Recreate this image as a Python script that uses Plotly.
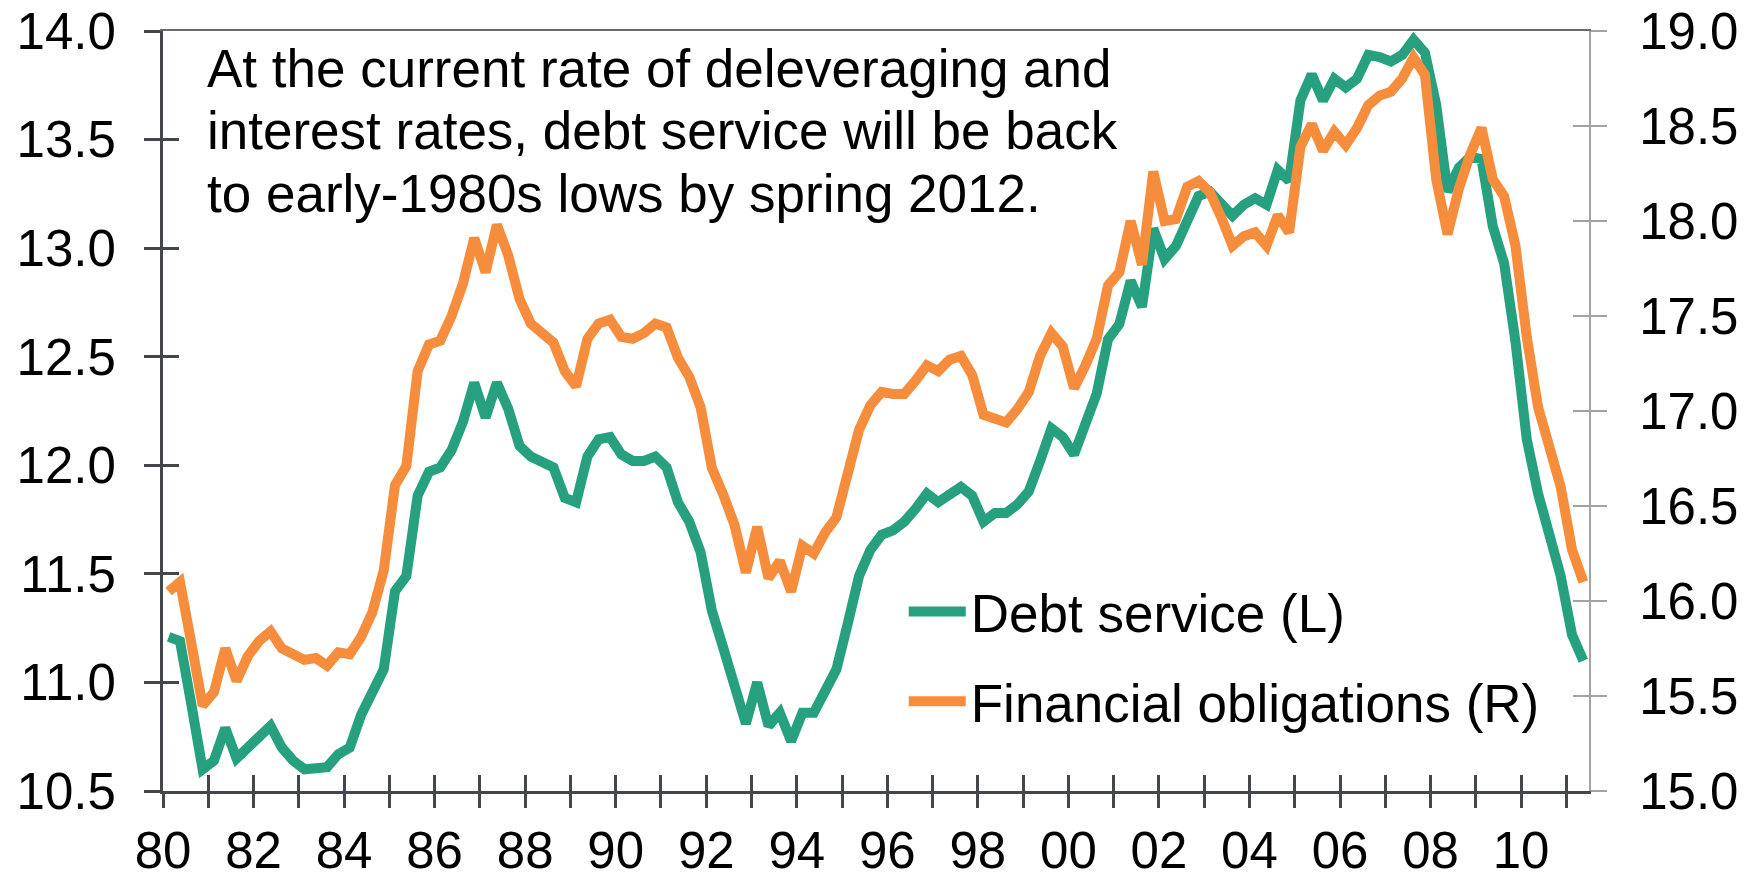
import plotly.graph_objects as go
import pandas as pd

# ---------------- data ----------------
quarters = pd.period_range("1980Q1", "2011Q2", freq="Q")

debt_service = [
    11.21, 11.19, 10.90, 10.60, 10.64, 10.79, 10.65, 10.70, 10.75, 10.80,
    10.70, 10.64, 10.60, 10.61, 10.61, 10.67, 10.70, 10.85, 10.95, 11.06,
    11.42, 11.49, 11.86, 11.97, 11.99, 12.07, 12.20, 12.38, 12.22, 12.38,
    12.26, 12.09, 12.04, 12.02, 11.99, 11.85, 11.83, 12.04, 12.12, 12.13,
    12.05, 12.02, 12.02, 12.04, 11.99, 11.83, 11.74, 11.60, 11.33, 11.16,
    10.99, 10.81, 11.00, 10.80, 10.86, 10.73, 10.86, 10.86, 10.96, 11.06,
    11.27, 11.49, 11.61, 11.68, 11.70, 11.74, 11.80, 11.87, 11.83, 11.86,
    11.90, 11.86, 11.74, 11.78, 11.78, 11.82, 11.88, 12.02, 12.17, 12.13,
    12.05, 12.19, 12.33, 12.58, 12.65, 12.85, 12.73, 13.09, 12.95, 13.01,
    13.14, 13.24, 13.26, 13.21, 13.15, 13.20, 13.23, 13.20, 13.36, 13.31,
    13.68, 13.80, 13.68, 13.78, 13.74, 13.78, 13.89, 13.88, 13.86, 13.89,
    13.96, 13.90, 13.66, 13.26, 13.37, 13.42, 13.41, 13.10, 12.93, 12.57,
    12.12, 11.87, 11.69, 11.49, 11.22, 11.10,
]

financial_obligations = [
    16.05, 16.10, 15.78, 15.45, 15.52, 15.75, 15.58, 15.71, 15.79, 15.84,
    15.75, 15.72, 15.69, 15.70, 15.66, 15.73, 15.72, 15.81, 15.94, 16.16,
    16.61, 16.71, 17.21, 17.35, 17.37, 17.50, 17.67, 17.91, 17.73, 17.98,
    17.82, 17.59, 17.46, 17.41, 17.36, 17.21, 17.13, 17.38, 17.46, 17.48,
    17.39, 17.38, 17.41, 17.46, 17.44, 17.28, 17.18, 17.02, 16.70, 16.56,
    16.40, 16.15, 16.39, 16.12, 16.21, 16.05, 16.29, 16.25, 16.36, 16.44,
    16.65, 16.90, 17.03, 17.10, 17.09, 17.09, 17.16, 17.24, 17.21, 17.27,
    17.29, 17.19, 16.98, 16.96, 16.94, 17.01, 17.10, 17.29, 17.41, 17.34,
    17.12, 17.24, 17.38, 17.66, 17.73, 18.00, 17.77, 18.26, 18.00, 18.01,
    18.18, 18.21, 18.15, 18.02, 17.87, 17.92, 17.94, 17.87, 18.03, 17.94,
    18.39, 18.51, 18.37, 18.47, 18.40, 18.49, 18.61, 18.66, 18.68, 18.75,
    18.86, 18.77, 18.22, 17.93, 18.17, 18.35, 18.49, 18.22, 18.13, 17.87,
    17.39, 17.02, 16.79, 16.60, 16.27, 16.10,
]

tick_years = list(range(1980, 2011, 2))
tick_labels = ["80", "82", "84", "86", "88", "90", "92", "94",
               "96", "98", "00", "02", "04", "06", "08", "10"]
minor_years = list(range(1980, 2012))

series_names = ["Debt service (L)", "Financial obligations (R)"]
note_lines = [
    "At the current rate of deleveraging and",
    "interest rates, debt service will be back",
    "to early-1980s lows by spring 2012.",
]

# ---------------- styling ----------------
GREEN = "#26A07F"
ORANGE = "#F58D3D"
DARK = "#43464B"
GRAY = "#A3A3A3"
FONT = "Liberation Sans, Arial, sans-serif"
TICK_FONT = dict(family=FONT, size=51, color="black")

# quarter mid-points on a numeric year axis
x = [p.year + (p.quarter - 0.5) / 4 for p in quarters]
XR = [1980, 2011.5]
YL = [10.5, 14.0]
YR = [15.0, 19.0]

fig = go.Figure()
fig.add_trace(go.Scatter(
    x=x, y=debt_service, name=series_names[0], mode="lines",
    line=dict(color=GREEN, width=10), yaxis="y", legendgroup="a",
))
fig.add_trace(go.Scatter(
    x=x, y=financial_obligations, name=series_names[1], mode="lines",
    line=dict(color=ORANGE, width=10), yaxis="y2", legendgroup="b",
))
# empty helper traces so the decorative overlay axes get drawn
fig.add_trace(go.Scatter(x=[None], y=[None], xaxis="x3", yaxis="y3",
                         showlegend=False, hoverinfo="skip"))
fig.add_trace(go.Scatter(x=[None], y=[None], xaxis="x4", yaxis="y4",
                         showlegend=False, hoverinfo="skip"))

fig.update_layout(
    width=1756, height=878,
    margin=dict(l=163, r=167, t=31, b=87, pad=0, autoexpand=False),
    paper_bgcolor="white", plot_bgcolor="white",
    font=dict(family=FONT, color="black"),
    showlegend=True,
    legend=dict(
        x=(904 - 163) / 1426.5, xanchor="left", y=0.177, yanchor="middle",
        font=dict(family=FONT, size=53, color="black"),
        bgcolor="rgba(0,0,0,0)", tracegroupgap=18, itemwidth=57,
    ),
    # main x axis: labels + inner half of the crossing ticks
    xaxis=dict(
        range=XR, tickmode="array", tickvals=tick_years, ticktext=tick_labels,
        ticks="inside", ticklen=16, tickwidth=3, tickcolor=DARK,
        minor=dict(tickmode="array", tickvals=minor_years, ticks="inside",
                   ticklen=16, tickwidth=3, tickcolor=DARK),
        showline=True, linecolor=DARK, linewidth=3,
        showgrid=False, zeroline=False, tickfont=TICK_FONT,
        ticklabelstandoff=13, automargin=False,
    ),
    # outer half of the crossing ticks
    xaxis3=dict(
        range=XR, overlaying="x", anchor="y3", side="bottom",
        tickmode="array", tickvals=minor_years, ticks="outside",
        ticklen=16, tickwidth=3, tickcolor=DARK, automargin=False,
        showticklabels=False, showline=False, showgrid=False, zeroline=False,
    ),
    # thin top frame line
    xaxis4=dict(
        range=XR, overlaying="x", anchor="y4", side="top",
        ticks="", showticklabels=False, showline=True, automargin=False,
        linecolor="#6A6A6A", linewidth=2, showgrid=False, zeroline=False,
    ),
    yaxis=dict(
        range=YL, tickmode="linear", tick0=10.5, dtick=0.5, tickformat=".1f",
        ticks="outside", ticklen=16, tickwidth=3, tickcolor=DARK,
        showline=True, linecolor=DARK, linewidth=3,
        showgrid=False, zeroline=False, tickfont=TICK_FONT,
        ticklabelstandoff=18, automargin=False,
    ),
    yaxis2=dict(
        range=YR, overlaying="y", side="right", anchor="x",
        tickmode="linear", tick0=15, dtick=0.5, tickformat=".1f",
        ticks="outside", ticklen=16, tickwidth=2, tickcolor=GRAY,
        showline=True, linecolor=GRAY, linewidth=2,
        showgrid=False, zeroline=False, tickfont=TICK_FONT,
        ticklabelstandoff=22, automargin=False,
    ),
    yaxis3=dict(
        range=YL, overlaying="y", side="left", anchor="x3",
        tickmode="linear", tick0=10.5, dtick=0.5, ticks="inside",
        ticklen=16, tickwidth=3, tickcolor=DARK, automargin=False,
        showticklabels=False, showline=False, showgrid=False, zeroline=False,
    ),
    yaxis4=dict(
        range=YR, overlaying="y", side="right", anchor="x4",
        tickmode="linear", tick0=15, dtick=0.5, ticks="inside",
        ticklen=16, tickwidth=2, tickcolor=GRAY, automargin=False,
        showticklabels=False, showline=False, showgrid=False, zeroline=False,
    ),
)

# note text, one annotation per line
note_y = [0.9508, 0.8687, 0.7866]
for line, yy in zip(note_lines, note_y):
    fig.add_annotation(
        text=line, xref="paper", yref="paper", x=0.0295, y=yy,
        xanchor="left", yanchor="middle", showarrow=False, align="left",
        font=dict(family=FONT, size=53, color="black"),
    )

fig.write_html("out.html", config={"displayModeBar": False},
               post_script="document.body.style.margin='0px';")
